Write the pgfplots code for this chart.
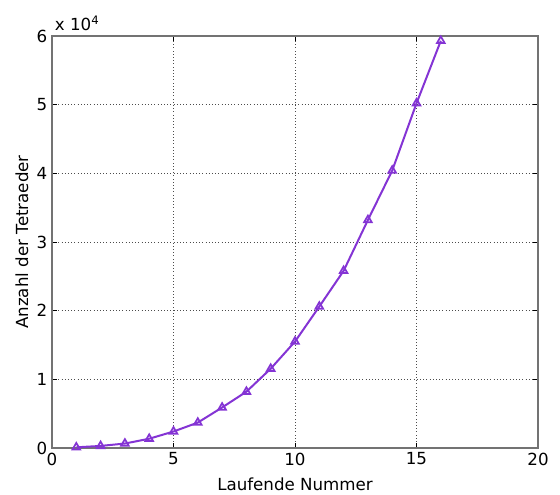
\documentclass[border=0pt]{standalone}
\usepackage{fontspec}
\setmainfont{DejaVu Sans}
\usepackage{pgfplots}
\pgfplotsset{compat=1.18}
\definecolor{linepurple}{RGB}{132,52,212}

\begin{document}
\begin{tikzpicture}
\begin{axis}[
    scale only axis,
    width=364.5pt, height=309pt,
    xmin=0, xmax=20, ymin=0, ymax=60000,
    xtick={0,5,10,15,20},
    xticklabels={0,5,10,15,20},
    ytick={0,10000,20000,30000,40000,50000,60000},
    yticklabels={0,1,2,3,4,5,6},
    scaled y ticks=false,
    tick label style={font=\fontsize{12.5}{14}\selectfont},
    label style={font=\fontsize{12.5}{14}\selectfont},
    xlabel={Laufende Nummer},
    ylabel={Anzahl der Tetraeder},
    xlabel style={at={(rel axis cs:0.5,0)}, anchor=center, yshift=-27.5pt},
    ylabel style={at={(rel axis cs:0,0.5)}, anchor=center, yshift=22.5pt},
    grid=major,
    major grid style={dotted, black!70, line width=0.6pt},
    axis line style={black!55, line width=0.8pt},
    tick style={black, line width=0.6pt},
    major tick length=4pt,
    tick align=inside,
    clip=false,
]
\addplot[color=linepurple, line width=1.5pt, mark=triangle, mark size=3.3pt,
    mark options={line width=1.3pt}] coordinates {
    (1, 100) (2, 300) (3, 650) (4, 1350) (5, 2400) (6, 3700)
    (7, 5900) (8, 8200) (9, 11550) (10, 15500) (11, 20600) (12, 25800)
    (13, 33200) (14, 40400) (15, 50200) (16, 59300)
};
\node[anchor=south west, inner sep=0pt, xshift=2pt, yshift=4pt,
    font=\fontsize{12.5}{14}\selectfont]
    at (rel axis cs:0,1) {x 10\textsuperscript{4}};
\end{axis}
\pgfresetboundingbox
\path ([shift={(-39pt,-35.25pt)}]current axis.south west)
    rectangle ([shift={(16.5pt,27pt)}]current axis.north east);
\end{tikzpicture}
\end{document}
